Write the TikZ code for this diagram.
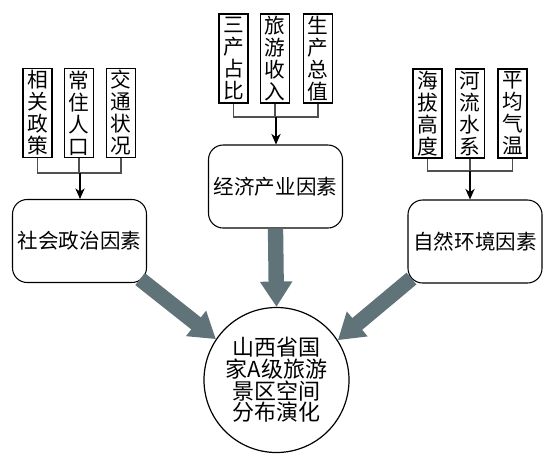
\documentclass[tikz,border=0pt]{standalone}
\usepackage{fontspec}
\newfontfamily\cjk{Noto Sans CJK SC}
\usetikzlibrary{arrows.meta,calc}
\definecolor{arrowgray}{RGB}{95,115,120}
\definecolor{conngray}{RGB}{80,80,80}
\begin{document}
\begin{tikzpicture}[x=0.75pt,y=-0.75pt,
  leaf/.style={draw,line width=1pt,minimum width=21.75pt,minimum height=66.75pt,
    inner xsep=0pt,inner ysep=0pt,align=center,font=\cjk\fontsize{15.5}{16.5}\selectfont},
  factor/.style={draw,line width=0.8pt,rounded corners=11pt,minimum width=100.5pt,
    minimum height=62.25pt,font=\cjk\fontsize{15.4}{18}\selectfont},
  goalnode/.style={draw,circle,line width=0.9pt,minimum size=108.75pt,inner sep=0pt,
    align=center,font=\cjk\fontsize{16.5}{15.2}\selectfont},
  conn/.style={draw=conngray,line width=0.8pt},
  smallarrow/.style={draw=black,line width=0.8pt,-{Stealth[length=8pt,width=7pt,inset=2.5pt]}},
  bigarrow/.style={draw=arrowgray,line width=11.5pt,-{Triangle[length=19pt,width=23pt]}}
]
\useasboundingbox (0,0) rectangle (559,462);

% left group
\node[leaf] (l1) at (37.5,113) {相\\关\\政\\策};
\node[leaf] (l2) at (79,113) {常\\住\\人\\口};
\node[leaf] (l3) at (121,113) {交\\通\\状\\况};
\coordinate (jl) at (80,173);
\node[factor] (soc) at (79.5,241) {社会政治因素};

% center group
\node[leaf] (c1) at (233.5,58.5) {三\\产\\占\\比};
\node[leaf] (c2) at (275,58.5) {旅\\游\\收\\入};
\node[leaf] (c3) at (318,58.5) {生\\产\\总\\值};
\coordinate (jc) at (276,117);
\node[factor] (eco) at (275.5,186.5) {经济产业因素};

% right group
\node[leaf] (r1) at (427.5,113.5) {海\\拔\\高\\度};
\node[leaf] (r2) at (470,113.5) {河\\流\\水\\系};
\node[leaf] (r3) at (512.5,113.5) {平\\均\\气\\温};
\coordinate (jr) at (470,171);
\node[factor] (nat) at (475,241.5) {自然环境因素};

% goal
\node[goalnode] (goal) at (276.5,380) {山西省国\\家A级旅游\\景区空间\\分布演化};

% connectors
\draw[conn] (l1.south) |- (jl) -| (l3.south);
\draw[conn] (l2.south) -- (l2.south |- jl);
\draw[smallarrow] (jl) -- (jl |- soc.north);

\draw[conn] (c1.south) |- (jc) -| (c3.south);
\draw[conn] (c2.south) -- (c2.south |- jc);
\draw[smallarrow] (jc) -- (jc |- eco.north);

\draw[conn] (r1.south) |- (jr) -| (r3.south);
\draw[conn] (r2.south) -- (r2.south |- jr);
\draw[smallarrow] (jr) -- (jr |- nat.north);

% big arrows
\draw[bigarrow] ($(soc.south east)+(-7,-4)$) -- (goal.146);
\draw[bigarrow] (eco.south) -- (goal.north);
\draw[bigarrow] ($(nat.south west)+(4,-5)$) -- (goal.33);
\end{tikzpicture}
\end{document}
